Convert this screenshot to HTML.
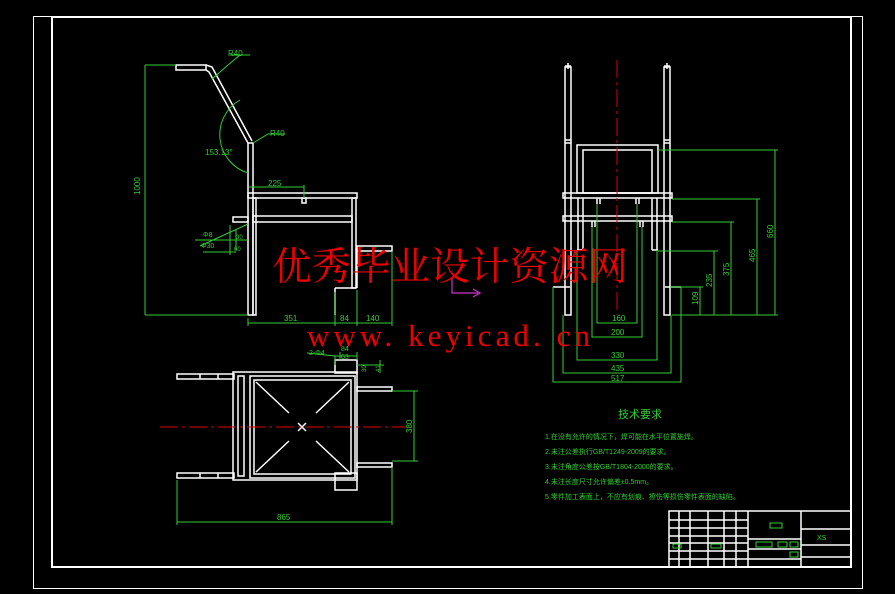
<!DOCTYPE html>
<html><head><meta charset="utf-8"><style>
html,body{margin:0;padding:0;background:#000;}
svg{display:block}
</style></head><body>
<svg width="895" height="594" viewBox="0 0 895 594" xmlns="http://www.w3.org/2000/svg" font-family="Liberation Sans, Noto Sans CJK SC, sans-serif">
<rect width="895" height="594" fill="#000"/>
<!-- frames -->
<rect x="33.5" y="16.5" width="829" height="572" fill="none" stroke="#fff" stroke-width="1"/>
<rect x="52" y="17" width="799" height="550" fill="none" stroke="#fff" stroke-width="2"/>

<g stroke="#fff" stroke-width="1.5" fill="none">
<!-- side view -->
<rect x="176" y="65" width="30" height="5"/>
<path d="M206 65 L212 67 L252 141 M206 70 L209 72 L248 143"/>
<rect x="248" y="143" width="5" height="172"/>
<rect x="248" y="193" width="109" height="5"/>
<rect x="352" y="198" width="4" height="90"/>
<rect x="253" y="198" width="3" height="117"/>
<rect x="253" y="216" width="99" height="6"/>
<rect x="233" y="217" width="15" height="5"/>
<rect x="357" y="246" width="35" height="5"/>
<path d="M357 251 V288 M335 288 H356 M335 288 V315"/>
<rect x="302" y="198" width="4" height="5"/>
<!-- front view -->
<rect x="565" y="67" width="6" height="248"/>
<rect x="664" y="67" width="6" height="248"/>
<path d="M565 140 H571 M565 143 H571 M664 140 H670 M664 143 H670"/>
<path d="M568 63 v6 M565 66 h6 M667 63 v6 M664 66 h6"/>
<rect x="577" y="145" width="81" height="48"/>
<rect x="583" y="150" width="69" height="43"/>
<rect x="563" y="193" width="109" height="5"/>
<rect x="563" y="216" width="109" height="5"/>
<path d="M578 198 V250 M583 198 V250 M652 198 V250 M657 198 V250 M577 250 H583 M652 250 H658"/>
<path d="M597 198 v6 M600 198 v6 M636 198 v6 M639 198 v6 M592 221 v6 M595 221 v6 M640 221 v6 M643 221 v6"/>
<path d="M553 287 H570 M665 287 H681"/>
<!-- top view -->
<rect x="177" y="374" width="57" height="5"/>
<rect x="177" y="473" width="57" height="5"/>
<path d="M200 374v5 M218 374v5 M200 473v5 M218 473v5"/>
<rect x="233" y="372" width="124" height="108"/>
<rect x="238" y="376" width="6" height="100"/>
<rect x="250" y="376" width="105" height="102"/>
<rect x="254" y="380" width="97" height="94"/>
<rect x="357" y="387" width="35" height="4"/>
<rect x="357" y="463" width="35" height="4"/>
<rect x="335" y="360" width="22" height="13"/>
<rect x="335" y="473" width="22" height="17"/>
<path d="M256 382 L289 413 M349 382 L316 413 M256 472 L289 441 M349 472 L316 441 M298 423 L306 431 M306 423 L298 431"/>
<!-- title block -->
<rect x="669" y="511" width="182" height="56"/>
<path d="M669 520H748 M669 528H748 M669 536H748 M669 543H748 M669 551H748 M669 559H748 M679 511V567 M690 511V567 M708 511V567 M724 511V567 M736 511V567 M748 511V567 M801 511V567 M748 539H801 M801 529H851 M801 545H851 M801 557H851 M748 559H801 M748 549H801"/>
</g>
<!-- centerlines -->
<g stroke="#d00" stroke-width="1" stroke-dasharray="18,4,3,4">
<line x1="617" y1="60" x2="617" y2="315"/>
<line x1="160" y1="427" x2="405" y2="427"/>
</g>
<!-- dims -->
<g stroke="#3c3" stroke-width="1" fill="none">
<path d="M145 65H176 M145 65V315 M145 315H248"/>
<path d="M248 323H392 M248 318V326 M335 292V326 M357 290V326 M392 251V326"/>
<path d="M249 187H304 M304 185V198"/>
<path d="M195 240H248 M200 246L248 224 M203 252H236 M230 225v30 M236 230v20"/>
<path d="M212 79 L228 65 L240 55 M230 55H250 M253 143 L268 134 H285"/>
<path d="M248 173 A 40 40 0 0 1 240 100" />
<path d="M597 204V323H637V204 M592 227V337H642V227 M577 250V360H657V250 M563 315V373H671V315 M553 287V382H681V287"/>
<path d="M670 287H703 M700 287V315 M658 251H718 M714 251V315 M672 222H734 M731 222V315 M672 199H760 M757 199V315 M658 150H778 M775 150V315 M672 315H778"/>
<path d="M392 391H418 M414 391V461 M392 461H418 M177 480V525 M177 522H392 M392 467V525"/>
<path d="M335 356H357 M340 352V360 M357 352V360 M357 365H384 M380 360V373 M307 353 L335 356 L335 365"/>
</g>
<g fill="#3c3" font-size="8">
<text x="228" y="56">R40</text>
<text x="270" y="136">R40</text>
<text x="205" y="155">153.13°</text>
<text x="268" y="186">225</text>
<text x="140" y="195" transform="rotate(-90 140 195)">1000</text>
<text x="203" y="237" font-size="7">Φ8</text>
<text x="201" y="248" font-size="7">Φ30</text>
<text x="236" y="239" font-size="6">30</text>
<text x="234" y="251" font-size="6">60</text>
<text x="284" y="321">351</text>
<text x="340" y="321">84</text>
<text x="366" y="321">140</text>
<text x="612" y="321">160</text>
<text x="611" y="335">200</text>
<text x="611" y="358">330</text>
<text x="611" y="371">435</text>
<text x="611" y="381">517</text>
<text x="698" y="305" transform="rotate(-90 698 305)">109</text>
<text x="712" y="287" transform="rotate(-90 712 287)">235</text>
<text x="729" y="276" transform="rotate(-90 729 276)">375</text>
<text x="755" y="262" transform="rotate(-90 755 262)">465</text>
<text x="773" y="238" transform="rotate(-90 773 238)">660</text>
<text x="412" y="433" transform="rotate(-90 412 433)">380</text>
<text x="277" y="520">865</text>
<text x="309" y="355" font-size="7">2-Φ4</text>
<text x="341" y="351" font-size="7">84</text>
<text x="341" y="359" font-size="7">63</text>
<text x="366" y="372" transform="rotate(-90 366 372)" font-size="6">30</text>
<text x="380" y="372" transform="rotate(-90 380 372)" font-size="6">41</text>
<text x="618" y="418" font-size="11">技术要求</text>
<text x="545" y="439" font-size="7">1.在没有允许的情况下，焊可能在水平位置施焊。</text>
<text x="545" y="454" font-size="7">2.未注公差执行GB/T1249-2009的要求。</text>
<text x="545" y="469" font-size="7">3.未注角度公差按GB/T1804-2000的要求。</text>
<text x="545" y="484" font-size="7">4.未注长度尺寸允许偏差±0.5mm。</text>
<text x="545" y="499" font-size="7">5.零件加工表面上，不应有划痕、擦伤等损伤零件表面的缺陷。</text>
<text x="817" y="540" font-size="7">XS</text>
</g>
<g stroke="#3c3" fill="none" stroke-width="1">
<rect x="770" y="523" width="12" height="5"/>
<rect x="756" y="542" width="16" height="5"/><rect x="778" y="542" width="9" height="5"/><rect x="790" y="542" width="8" height="5"/>
<rect x="790" y="552" width="8" height="5"/>
<rect x="673" y="544" width="8" height="4"/><rect x="711" y="544" width="10" height="4"/>
</g>
<path d="M452 278 V293 H478 M473 289 L480 293 L473 297" stroke="#c3c" fill="none" stroke-width="1.2"/>
<!-- watermark -->
<text x="272" y="280" fill="#e00" font-size="39" style="font-family:'Noto Serif CJK SC','Noto Sans CJK SC',serif" textLength="356" lengthAdjust="spacingAndGlyphs">优秀毕业设计资源网</text>
<text x="307" y="346" fill="#e00" font-size="31" style="font-family:'Liberation Serif',serif" textLength="283" lengthAdjust="spacing">www. keyicad. cn</text>
</svg>
</body></html>
